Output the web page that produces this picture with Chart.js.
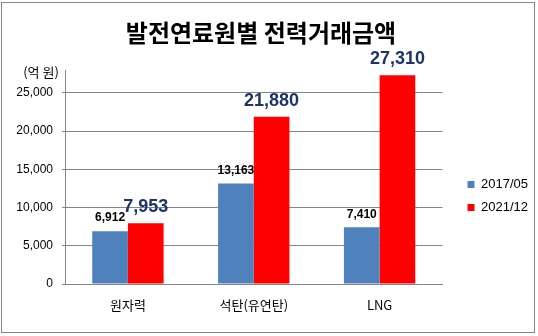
<!DOCTYPE html>
<html>
<head>
<meta charset="utf-8">
<script src="https://cdn.jsdelivr.net/npm/chart.js@4"></script>
<style>body{margin:0;background:#fff}</style>
</head>
<body>
<canvas id="chart" width="538" height="336"></canvas>
<script>
const categories = ['원자력', '석탄(유연탄)', 'LNG'];
const seriesNames = ['2017/05', '2021/12'];
const values2017 = [6912, 13163, 7410];
const values2021 = [7953, 21880, 27310];
const yTicks = [0, 5000, 10000, 15000, 20000, 25000];

const gray = '#868686';

// frame, title, unit text and value labels
const decor = {
  id: 'decor',
  beforeDraw(chart) {
    const {ctx} = chart;
    ctx.save();
    ctx.fillStyle = '#fff';
    ctx.fillRect(0, 0, chart.width, chart.height);
    ctx.strokeStyle = gray;
    ctx.lineWidth = 1;
    ctx.strokeRect(1.5, 2.5, 533, 330);
    ctx.fillStyle = '#000';
    ctx.textAlign = 'center';
    ctx.textBaseline = 'middle';
    ctx.font = 'bold 24px "Noto Sans CJK KR"';
    ctx.fillText('발전연료원별 전력거래금액', 261, 33);
    ctx.font = '13px "Noto Sans CJK KR"';
    ctx.fillText('(억 원)', 41, 72);
    ctx.restore();
  },
  afterDatasetsDraw(chart) {
    const {ctx} = chart;
    const styles = [
      {font: 'bold 12px "Liberation Sans"', color: '#000', off: 13},
      {font: 'bold 18px "Liberation Sans"', color: '#1F3466', off: 16}
    ];
    ctx.save();
    ctx.textAlign = 'center';
    ctx.textBaseline = 'middle';
    chart.data.datasets.forEach((ds, i) => {
      const meta = chart.getDatasetMeta(i);
      ctx.font = styles[i].font;
      ctx.fillStyle = styles[i].color;
      meta.data.forEach((bar, j) => {
        ctx.fillText(ds.data[j].toLocaleString('en-US'), bar.x, bar.y - styles[i].off);
      });
    });
    ctx.restore();
  }
};

new Chart(document.getElementById('chart'), {
  type: 'bar',
  data: {
    labels: categories,
    datasets: [
      {label: seriesNames[0], data: values2017, backgroundColor: '#4F81BD'},
      {label: seriesNames[1], data: values2021, backgroundColor: '#FF0000'}
    ]
  },
  options: {
    responsive: false,
    animation: false,
    devicePixelRatio: 1,
    layout: {padding: {top: 70, left: 0, right: 0, bottom: 14}},
    datasets: {bar: {barPercentage: 1, categoryPercentage: 0.567}},
    scales: {
      x: {
        grid: {display: false},
        border: {color: gray},
        ticks: {color: '#000', font: {family: '"Noto Sans CJK KR"', size: 13}, padding: 5},
        afterFit(scale) { scale.height = 38; }
      },
      y: {
        min: 0,
        max: 28000,
        afterBuildTicks(scale) { scale.ticks = yTicks.map(v => ({value: v})); },
        afterFit(scale) { scale.width = 65; },
        grid: {color: gray, tickLength: 3},
        border: {color: gray},
        ticks: {
          color: '#000',
          font: {family: '"Liberation Sans"', size: 12},
          padding: 9,
          callback: v => v.toLocaleString('en-US')
        }
      },
      pad: {
        position: 'right',
        display: true,
        grid: {display: false},
        border: {display: false},
        ticks: {display: false},
        afterFit(scale) { scale.width = 15; }
      }
    },
    plugins: {
      title: {display: false},
      tooltip: {enabled: false},
      legend: {
        position: 'right',
        labels: {
          boxWidth: 7,
          boxHeight: 7,
          padding: 10,
          color: '#000',
          font: {family: '"Liberation Sans"', size: 13}
        }
      }
    }
  },
  plugins: [decor]
});
</script>
</body>
</html>
